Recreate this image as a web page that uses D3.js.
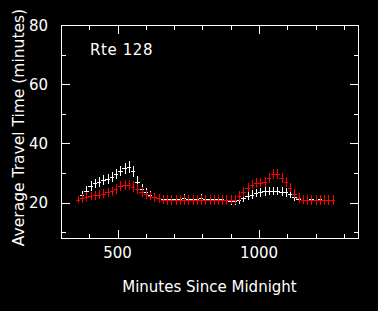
<!DOCTYPE html>
<html>
<head>
<meta charset="utf-8">
<script src="https://cdn.jsdelivr.net/npm/d3@7"></script>
<style>
  body { margin: 0; background: #000000; }
  text { font-family: "DejaVu Sans", sans-serif; fill: #ffffff; }
</style>
</head>
<body>
<div id="chart_div"></div>
<script>
// minutes since midnight, one sample every 15 min
var times = [360, 375, 390, 405, 420, 435, 450, 465, 480, 495, 510, 525, 540, 555, 570, 585, 600, 615, 630, 645,
  660, 675, 690, 705, 720, 735, 750, 765, 780, 795, 810, 825, 840, 855, 870, 885, 900, 915, 930, 945,
  960, 975, 990, 1005, 1020, 1035, 1050, 1065, 1080, 1095, 1110, 1125, 1140, 1155, 1170, 1185, 1200, 1215, 1230, 1245, 1260];

// white series
var white_vals = [21.0, 22.5, 24.0, 25.5, 26.5, 27.0, 27.6, 28.0, 28.6, 29.5, 30.6, 31.6, 32.0, 30.5, 27.0, 24.6, 23.4, 22.4, 21.8, 21.4,
  21.2, 21.3, 21.2, 21.3, 21.2, 21.4, 21.3, 21.2, 21.3, 21.4, 21.3, 21.2, 21.3, 21.2, 21.1, 21.0, 20.6, 20.5, 21.0, 21.6,
  22.2, 22.7, 23.2, 23.5, 23.8, 23.9, 23.9, 23.9, 23.7, 23.5, 22.9, 22.0, 21.3, 21.0, 21.0, 21.1, 21.0, 21.1, 21.0, 21.0, 21.0];
var white_err = [1.1, 1.4, 1.5, 1.6, 1.6, 1.6, 1.6, 1.7, 1.7, 1.7, 1.8, 1.9, 1.9, 1.9, 1.8, 1.7, 1.6, 1.5, 1.5, 1.5,
  1.4, 1.4, 1.4, 1.4, 1.4, 1.4, 1.4, 1.4, 1.4, 1.4, 1.4, 1.4, 1.4, 1.4, 1.4, 1.4, 1.4, 1.4, 1.4, 1.5,
  1.5, 1.5, 1.5, 1.5, 1.5, 1.5, 1.5, 1.5, 1.5, 1.5, 1.5, 1.5, 1.4, 1.4, 1.4, 1.4, 1.4, 1.4, 1.4, 1.4, 0.0];

// red series
var red_vals = [21.0, 21.5, 22.0, 22.2, 22.4, 22.6, 23.0, 23.4, 23.8, 24.5, 25.6, 26.0, 26.0, 25.4, 24.6, 23.6, 22.8, 22.2, 21.8, 21.4,
  21.0, 20.9, 20.8, 20.9, 20.8, 20.9, 20.8, 20.8, 20.9, 20.8, 20.8, 20.9, 20.8, 20.8, 20.9, 20.9, 21.0, 21.0, 22.2, 23.6,
  25.0, 26.0, 26.6, 26.7, 27.0, 28.4, 29.6, 29.6, 28.4, 27.0, 25.0, 23.0, 21.6, 21.0, 20.8, 20.8, 20.8, 20.8, 20.8, 20.8, 20.8];
var red_err = [1.2, 1.5, 1.5, 1.5, 1.5, 1.5, 1.5, 1.6, 1.6, 1.6, 1.6, 1.7, 1.7, 1.7, 1.6, 1.6, 1.5, 1.5, 1.5, 1.5,
  1.5, 1.6, 1.6, 1.6, 1.6, 1.6, 1.6, 1.6, 1.6, 1.6, 1.6, 1.6, 1.6, 1.6, 1.6, 1.6, 1.6, 1.6, 1.6, 1.6,
  1.6, 1.6, 1.6, 1.6, 1.6, 1.7, 1.7, 1.7, 1.7, 1.6, 1.6, 1.6, 1.6, 1.6, 1.6, 1.6, 1.6, 1.6, 1.6, 1.6, 1.6];

var x_major = [500, 1000];
var x_minor = [400, 600, 700, 800, 900, 1100, 1200, 1300];
var y_major = [20, 40, 60, 80];
var y_minor = [10, 30, 50, 70];

var route_label = "Rte 128";
var x_title = "Minutes Since Midnight";
var y_title = "Average Travel Time (minutes)";

var width = 378, height = 311;
var left = 61, right = 358, top_ = 25, bottom = 238;
var half_bin = 8;   // horizontal arm of each cross, minutes

var xScale = d3.scaleLinear().domain([300, 1350]).range([left, right]);
var yScale = d3.scaleLinear().domain([8, 80]).range([bottom, top_]);

var svg = d3.select("#chart_div")
  .append("svg")
  .attr("width", width)
  .attr("height", height)
  .style("display", "block")
  .style("background", "#000000");

function draw_series(vals, errs, color)  {
  var pts = times.map(function(t, i)  {return {t: t, v: vals[i], e: errs[i]};});
  var g = svg.append("g").attr("stroke", color).attr("stroke-width", 1).attr("shape-rendering", "crispEdges");
  g.selectAll("line.h")
    .data(pts)
    .enter().append("line")
      .attr("class", "h")
      .attr("x1", function(d) { return xScale(d.t - half_bin); })
      .attr("x2", function(d) { return xScale(d.t + half_bin); })
      .attr("y1", function(d) { return Math.round(yScale(d.v)) + 0.5; })
      .attr("y2", function(d) { return Math.round(yScale(d.v)) + 0.5; });
  g.selectAll("line.v")
    .data(pts)
    .enter().append("line")
      .attr("class", "v")
      .attr("x1", function(d) { return Math.round(xScale(d.t)) + 0.5; })
      .attr("x2", function(d) { return Math.round(xScale(d.t)) + 0.5; })
      .attr("y1", function(d) { return yScale(d.v - d.e); })
      .attr("y2", function(d) { return yScale(d.v + d.e); });
}

draw_series(white_vals, white_err, "#ffffff");
draw_series(red_vals, red_err, "#ff0000");

// frame and inward ticks on all four sides
var axes = svg.append("g").attr("stroke", "#ffffff").attr("stroke-width", 1).attr("shape-rendering", "crispEdges");
axes.append("rect")
  .attr("x", left + 0.5).attr("y", top_ + 0.5)
  .attr("width", right - left).attr("height", bottom - top_)
  .attr("fill", "none");

function x_ticks(vals, len)  {
  vals.forEach(function(v)  {
    var x = Math.round(xScale(v)) + 0.5;
    axes.append("line").attr("x1", x).attr("x2", x).attr("y1", bottom).attr("y2", bottom - len);
    axes.append("line").attr("x1", x).attr("x2", x).attr("y1", top_ + 1).attr("y2", top_ + 1 + len);
  });
}
function y_ticks(vals, len)  {
  vals.forEach(function(v)  {
    var y = Math.round(yScale(v)) + 0.5;
    axes.append("line").attr("x1", left + 1).attr("x2", left + 1 + len).attr("y1", y).attr("y2", y);
    axes.append("line").attr("x1", right).attr("x2", right - len).attr("y1", y).attr("y2", y);
  });
}
x_ticks(x_major, 8);
x_ticks(x_minor, 4);
y_ticks(y_major, 8);
y_ticks(y_minor, 4);

svg.selectAll("text.xlab")
  .data(x_major)
  .enter().append("text")
    .attr("class", "xlab")
    .attr("x", function(d) { return xScale(d); })
    .attr("y", 258)
    .attr("text-anchor", "middle")
    .style("font-size", "15px")
    .text(function(d) { return d; });

svg.selectAll("text.ylab")
  .data(y_major)
  .enter().append("text")
    .attr("class", "ylab")
    .attr("x", 48)
    .attr("y", function(d) { return yScale(d) + 5.5; })
    .attr("text-anchor", "end")
    .style("font-size", "15px")
    .text(function(d) { return d; });

svg.append("text")
  .attr("x", (left + right) / 2)
  .attr("y", 292)
  .attr("text-anchor", "middle")
  .style("font-size", "15px")
  .text(x_title);

svg.append("text")
  .attr("transform", "translate(24," + ((top_ + bottom) / 2 - 4) + ") rotate(-90)")
  .attr("text-anchor", "middle")
  .style("font-size", "15.5px")
  .text(y_title);

svg.append("text")
  .attr("x", 90)
  .attr("y", 55)
  .style("font-size", "15px")
  .style("letter-spacing", "0.6px")
  .text(route_label);
</script>
</body>
</html>
